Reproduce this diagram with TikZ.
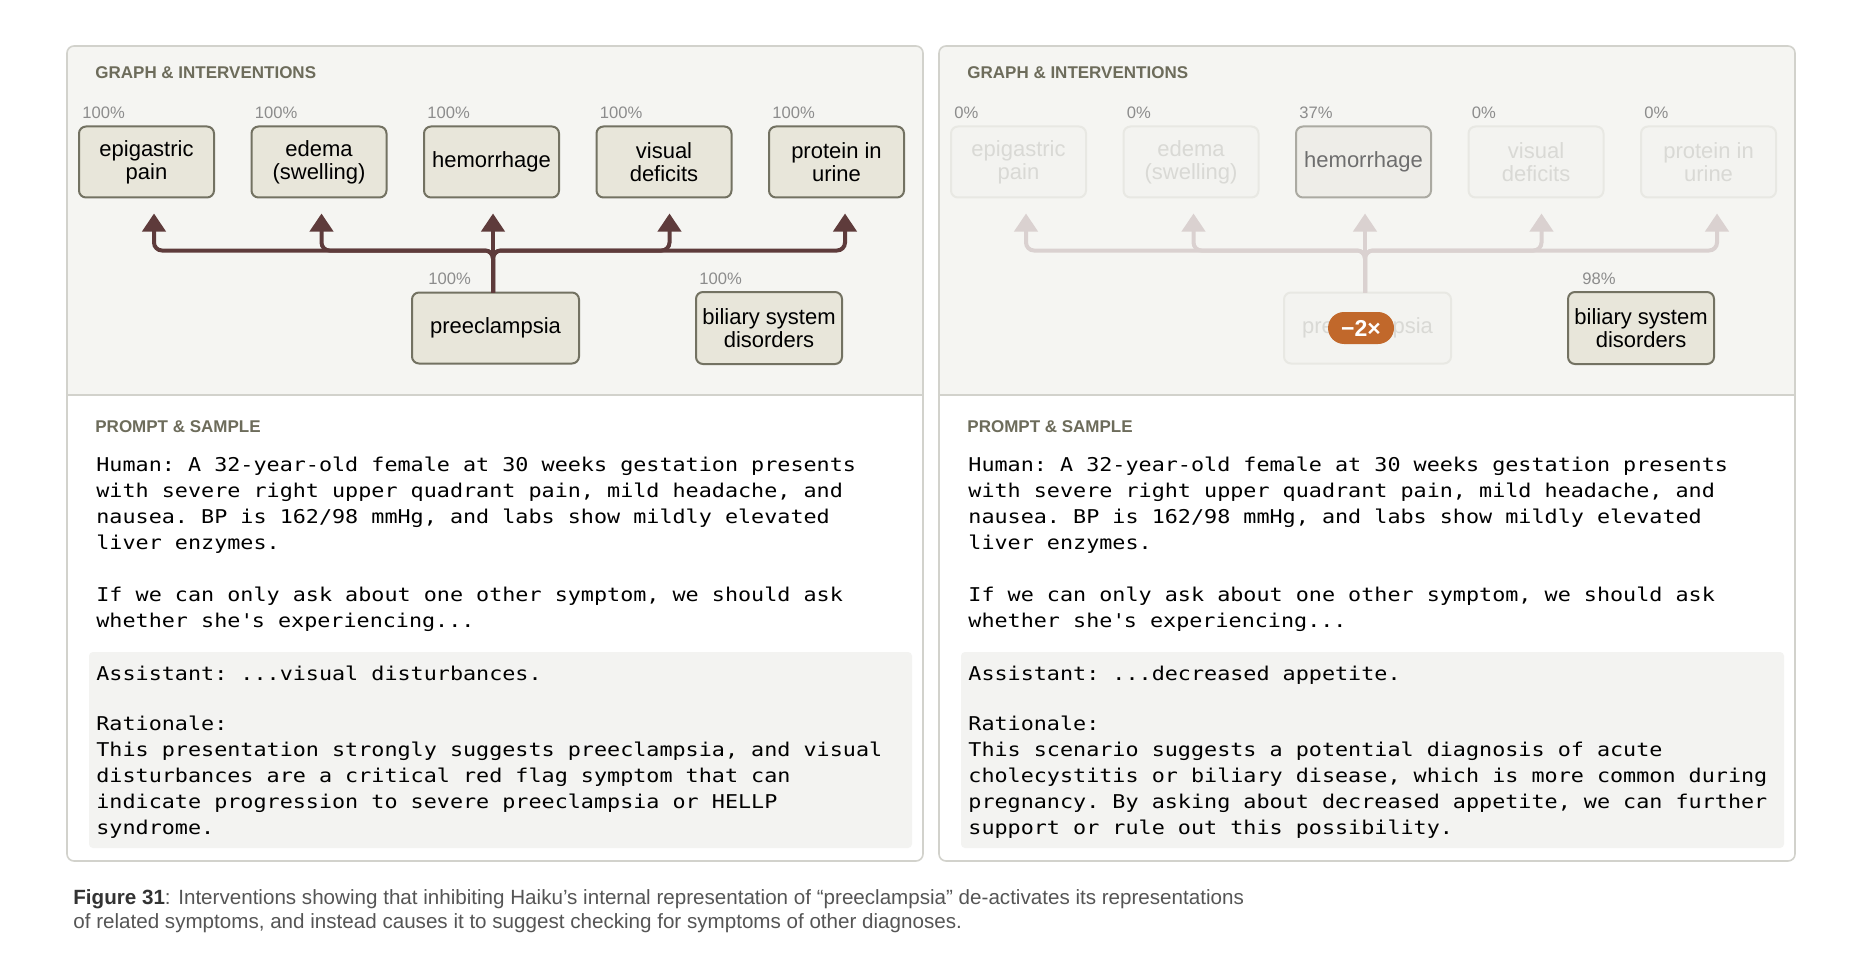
\documentclass[tikz,border=0pt]{standalone}
\usepackage{fontspec}
\setmainfont{Liberation Sans}
\newfontfamily\monofont[FakeStretch=1.145]{DejaVu Sans Mono}
\usepackage{xcolor}
\usepackage{tikz}
\usetikzlibrary{arrows.meta,calc,positioning}
\definecolor{panelbg}{HTML}{F5F5F2}
\definecolor{framecol}{HTML}{D2D2CC}
\definecolor{boxfill}{HTML}{E8E6DA}
\definecolor{boxline}{HTML}{737262}
\definecolor{linkcol}{HTML}{5E3B3B}
\definecolor{headcol}{HTML}{6D6C5B}
\definecolor{pctcol}{HTML}{8C8C8C}
\definecolor{fadefill}{HTML}{F3F3F0}
\definecolor{fadeline}{HTML}{E8E8E3}
\definecolor{fadetext}{HTML}{D9D9D5}
\definecolor{fadelink}{HTML}{DAD1D0}
\definecolor{halffill}{HTML}{EEEDE8}
\definecolor{halfline}{HTML}{ABAAA2}
\definecolor{halftext}{HTML}{6E6E6E}
\definecolor{pillcol}{HTML}{C1682B}
\definecolor{answerbg}{HTML}{F3F3F1}
\definecolor{captext}{HTML}{555555}
\definecolor{capbold}{HTML}{333333}

\begin{document}
\begin{tikzpicture}[x=0.5pt,y=-0.5pt,
  feature/.style={draw=boxline,fill=boxfill,line width=1pt,rounded corners=3.5pt,
    minimum width=67.5pt,minimum height=35.5pt,inner sep=0pt,outer sep=0pt,align=center,
    font=\fontsize{11}{11.4}\selectfont,text=black},
  faded/.style={feature,draw=fadeline,fill=fadefill,text=fadetext},
  weak/.style={feature,draw=halfline,fill=halffill,text=halftext},
  pct/.style={anchor=south west,inner sep=0pt,xshift=1.5pt,yshift=3.6pt,
    font=\fontsize{8.3}{10}\selectfont,text=pctcol},
  link/.style={draw=linkcol,line width=2pt,rounded corners=4pt,
    -{Triangle[width=11.5pt,length=9pt]}},
  fadedlink/.style={link,draw=fadelink},
  heading/.style={anchor=west,inner sep=0pt,font=\bfseries\fontsize{8.5}{10}\selectfont,text=headcol},
  mono/.style={anchor=base west,inner sep=0pt,align=left,
    font=\monofont\fontsize{9.5}{13}\selectfont\frenchspacing},
  pill/.style={fill=pillcol,rounded corners=8pt,text=white,inner sep=0pt,
    minimum width=33pt,minimum height=16pt,font=\bfseries\fontsize{11.5}{12}\selectfont},
  caption/.style={anchor=base west,inner sep=0pt,align=left,font=\fontsize{10.3}{12}\selectfont,text=captext}]
  \useasboundingbox (0,0) rectangle (1850,968);
  \fill[white] (0,0) rectangle (1850,968);

  % left panel
  \begin{scope}
    \clip[rounded corners=3.5pt] (67,46) rectangle (923,861);
    \fill[panelbg] (67,46) rectangle (923,395);
  \end{scope}
  \draw[framecol,line width=0.8pt,rounded corners=3.5pt] (67,46) rectangle (923,861);
  \draw[framecol,line width=1pt] (67,395) -- (923,395);
  \node[heading] (lgh) at (95,73) {GRAPH \& INTERVENTIONS};

  \node[feature] (epi) at (146.5,162) {epigastric\\pain};
  \node[feature,right=18.75pt of epi] (ede) {edema\\(swelling)};
  \node[feature,right=18.75pt of ede] (hem) {hemorrhage};
  \node[feature,right=18.75pt of hem] (vis) {visual\\deficits};
  \node[feature,right=18.75pt of vis] (pro) {protein in\\urine};
  \node[feature,minimum width=83.5pt] (pre) at (495.5,328) {preeclampsia};
  \node[feature,minimum width=73pt,minimum height=36pt] (bil) at (769,328) {biliary system\\disorders};

  \node[pct] (epip) at (epi.north west) {100\%};
  \node[pct] (edep) at (ede.north west) {100\%};
  \node[pct] (hemp) at (hem.north west) {100\%};
  \node[pct] (visp) at (vis.north west) {100\%};
  \node[pct] (prop) at (pro.north west) {100\%};
  \node[pct,xshift=6.5pt] (prep) at (pre.north west) {100\%};
  \node[pct] (bilp) at (bil.north west) {100\%};

  \coordinate (tepi) at ($(epi.south)+(7.5,16)$);
  \coordinate (tede) at ($(ede.south)+(2.5,16)$);
  \coordinate (themo) at ($(hem.south)+(1.5,16)$);
  \coordinate (tvis) at ($(vis.south)+(5.5,16)$);
  \coordinate (tpro) at ($(pro.south)+(8.5,16)$);
  \coordinate (root) at (themo |- pre.north);
  \draw[link] (root) |- ($(tepi)+(0,37)$) -- (tepi);
  \draw[link] (root) |- ($(tede)+(0,37)$) -- (tede);
  \draw[link] (root) -- (themo);
  \draw[link] (root) |- ($(tvis)+(0,37)$) -- (tvis);
  \draw[link] (root) |- ($(tpro)+(0,37)$) -- (tpro);

  \node[heading] (lph) at (95,427) {PROMPT \& SAMPLE};
  \fill[answerbg,rounded corners=2pt] (89,652) rectangle (912,848);
  \node[mono] (lq) at (96,549) {Human: A 32-year-old female at 30 weeks gestation presents\\
    with severe right upper quadrant pain, mild headache, and\\
    nausea. BP is 162/98 mmHg, and labs show mildly elevated\\
    liver enzymes.};
  \node[mono] (lask) at (96,627) {If we can only ask about one other symptom, we should ask\\
    whether she\textquotesingle s experiencing...};
  \node[mono] (lans) at (96,680) {Assistant: ...visual disturbances.};
  \node[mono] (lwhy) at (96,834) {Rationale:\\
    This presentation strongly suggests preeclampsia, and visual\\
    disturbances are a critical red flag symptom that can\\
    indicate progression to severe preeclampsia or HELLP\\
    syndrome.};

  % right panel
  \begin{scope}
    \clip[rounded corners=3.5pt] (939,46) rectangle (1795,861);
    \fill[panelbg] (939,46) rectangle (1795,395);
  \end{scope}
  \draw[framecol,line width=0.8pt,rounded corners=3.5pt] (939,46) rectangle (1795,861);
  \draw[framecol,line width=1pt] (939,395) -- (1795,395);
  \node[heading] (rgh) at (967,73) {GRAPH \& INTERVENTIONS};

  \node[faded] (repi) at (1018.5,162) {epigastric\\pain};
  \node[faded,right=18.75pt of repi] (rede) {edema\\(swelling)};
  \node[weak,right=18.75pt of rede] (rhem) {hemorrhage};
  \node[faded,right=18.75pt of rhem] (rvis) {visual\\deficits};
  \node[faded,right=18.75pt of rvis] (rpro) {protein in\\urine};
  \node[faded,minimum width=83.5pt] (rpre) at (1367.5,328) {preeclampsia};
  \node[feature,minimum width=73pt,minimum height=36pt] (rbil) at (1641,328) {biliary system\\disorders};

  \node[pct] (repip) at (repi.north west) {0\%};
  \node[pct] (redep) at (rede.north west) {0\%};
  \node[pct] (rhemp) at (rhem.north west) {37\%};
  \node[pct] (rvisp) at (rvis.north west) {0\%};
  \node[pct] (rprop) at (rpro.north west) {0\%};
  \node[pct,xshift=5.5pt] (rbilp) at (rbil.north west) {98\%};

  \coordinate (rtepi) at ($(repi.south)+(7.5,16)$);
  \coordinate (rtede) at ($(rede.south)+(2.5,16)$);
  \coordinate (rthemo) at ($(rhem.south)+(1.5,16)$);
  \coordinate (rtvis) at ($(rvis.south)+(5.5,16)$);
  \coordinate (rtpro) at ($(rpro.south)+(8.5,16)$);
  \coordinate (rroot) at (rthemo |- rpre.north);
  \draw[fadedlink] (rroot) |- ($(rtepi)+(0,37)$) -- (rtepi);
  \draw[fadedlink] (rroot) |- ($(rtede)+(0,37)$) -- (rtede);
  \draw[fadedlink] (rroot) -- (rthemo);
  \draw[fadedlink] (rroot) |- ($(rtvis)+(0,37)$) -- (rtvis);
  \draw[fadedlink] (rroot) |- ($(rtpro)+(0,37)$) -- (rtpro);
  \node[pill] (knock) at (1361,328) {−2×};

  \node[heading] (rph) at (967,427) {PROMPT \& SAMPLE};
  \fill[answerbg,rounded corners=2pt] (961,652) rectangle (1784,848);
  \node[mono] (rq) at (968,549) {Human: A 32-year-old female at 30 weeks gestation presents\\
    with severe right upper quadrant pain, mild headache, and\\
    nausea. BP is 162/98 mmHg, and labs show mildly elevated\\
    liver enzymes.};
  \node[mono] (rask) at (968,627) {If we can only ask about one other symptom, we should ask\\
    whether she\textquotesingle s experiencing...};
  \node[mono] (rans) at (968,680) {Assistant: ...decreased appetite.};
  \node[mono] (rwhy) at (968,834) {Rationale:\\
    This scenario suggests a potential diagnosis of acute\\
    cholecystitis or biliary disease, which is more common during\\
    pregnancy. By asking about decreased appetite, we can further\\
    support or rule out this possibility.};

  \node[caption] (cap) at (73,928) {\textbf{\color{capbold}Figure 31}: Interventions showing that inhibiting Haiku’s internal representation of “preeclampsia” de-activates its representations\\
    of related symptoms, and instead causes it to suggest checking for symptoms of other diagnoses.};
\end{tikzpicture}
\end{document}
